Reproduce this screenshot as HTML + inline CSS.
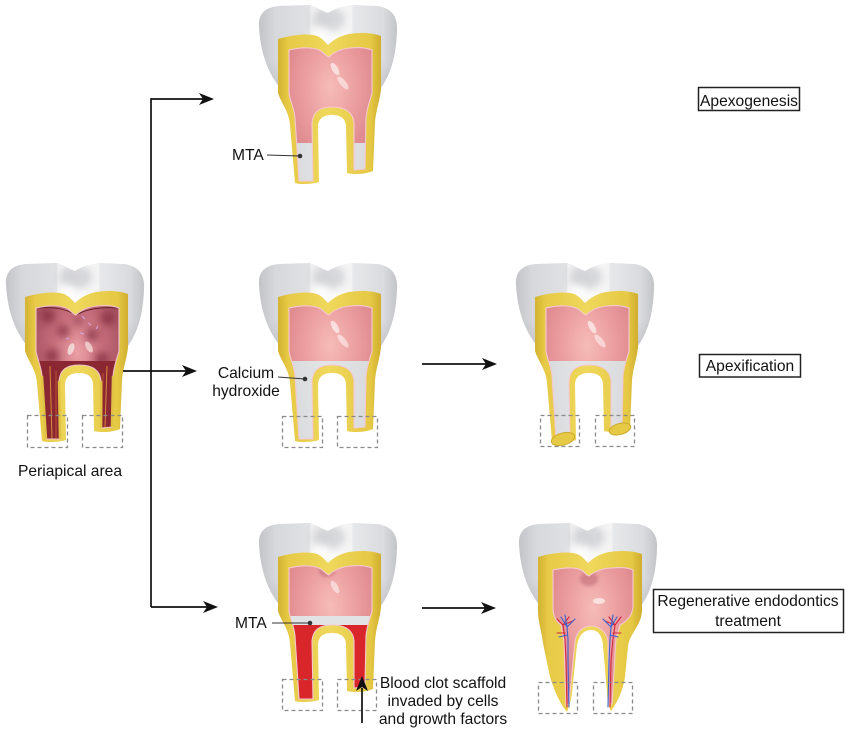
<!DOCTYPE html>
<html><head><meta charset="utf-8">
<style>
html,body{margin:0;padding:0;background:#fff;}
svg{display:block;}
text{font-family:"Liberation Sans",Arial,sans-serif;font-size:15.6px;fill:#111;}
</style></head><body>
<svg width="850" height="731" viewBox="0 0 850 731" xmlns="http://www.w3.org/2000/svg">
<defs>
 <path id="en" d="M2,24 C1,10 9,4 22,3 L53,2 C60,4 65,8 71,10 C76,7 83,3 96,2 L120,3 C135,5 141,14 140,28 C139,55 133,78 116,94 L32,94 C16,80 4,58 2,24 Z"/>
 <path id="den" d="M21,36 C35,32 50,30 60,33 C65,35 68,39 71,42 C75,38 82,33 92,31 C105,29 117,30 124,33 L124,86 C123,98 119,106 118,120 L116,168 C110,171 96,172 90,170 L89,124 C89,116 84,112 75,112 C66,112 61,116 61,124 L62,179 C56,181 44,182 38,180 L33,122 C32,108 24,100 21,90 Z"/>
 <path id="pulp" d="M32,47 C45,44 57,44 64,48 C67,50 69,53 72,54 C76,50 83,46 93,45 C103,44 110,45 115,47 L115,90 C113,98 110,104 109,115 L108,166 L97,167 L97,120 C96,109 88,104 75,104 C62,104 56,109 55,120 L56,178 L42,178 L38,115 C37,104 33,98 32,90 Z"/>
 <path id="denR" d="M21,36 C35,32 50,30 60,33 C65,35 68,39 71,42 C75,38 82,33 92,31 C105,29 117,30 125,33 L125,90 C124,105 113,112 111,125 L108,156 C106,170 100,182 94,190 C92,186 90,180 90,172 L86,124 C85,114 81,109 74,109 C67,109 62,114 60,124 L55,172 C54,180 52,186 50,191 C44,184 38,172 33,156 L26,122 C24,108 21,100 21,90 Z"/>
 <path id="pulpR" d="M36,49 C50,46 60,46 66,50 C68,52 70,55 72,55 C77,51 85,47 95,47 C105,46 112,47 116,49 L116,86 C115,95 110,100 103,104 L99,118 L95,183 L92,183 L91,120 C89,111 83,105 74,105 C66,105 60,110 58,120 L52,183 L49,184 L47,120 L44,104 C38,100 36,94 36,86 Z"/>

 <clipPath id="cpEn"><use href="#en"/></clipPath>
 <clipPath id="cpPulp"><use href="#pulp"/></clipPath>
 <clipPath id="cpPulpR"><use href="#pulpR"/></clipPath>

 <linearGradient id="gEn" x1="0" y1="0" x2="1" y2="0">
  <stop offset="0" stop-color="#c3c4c8"/>
  <stop offset="0.12" stop-color="#d7d8db"/>
  <stop offset="0.37" stop-color="#e0e1e3"/>
  <stop offset="0.373" stop-color="#f0f0f1"/>
  <stop offset="0.55" stop-color="#fcfcfc"/>
  <stop offset="0.675" stop-color="#f3f3f4"/>
  <stop offset="0.678" stop-color="#e7e8ea"/>
  <stop offset="0.9" stop-color="#dadbde"/>
  <stop offset="1" stop-color="#c3c4c7"/>
 </linearGradient>
 <linearGradient id="gEnV" x1="0" y1="0" x2="0" y2="1">
  <stop offset="0" stop-color="#9a9ba0" stop-opacity="0"/>
  <stop offset="0.6" stop-color="#9a9ba0" stop-opacity="0"/>
  <stop offset="1" stop-color="#8a8b90" stop-opacity="0.35"/>
 </linearGradient>
 <linearGradient id="gDen" x1="0" y1="0" x2="1" y2="0">
  <stop offset="0" stop-color="#d4b232"/>
  <stop offset="0.1" stop-color="#e7ca46"/>
  <stop offset="0.5" stop-color="#efd85c"/>
  <stop offset="0.9" stop-color="#e5c843"/>
  <stop offset="1" stop-color="#d0ad2f"/>
 </linearGradient>
 <radialGradient id="gPulp" cx="0.5" cy="0.3" r="0.6">
  <stop offset="0" stop-color="#f6bcb8"/>
  <stop offset="0.5" stop-color="#ec9fa0"/>
  <stop offset="1" stop-color="#dc868d"/>
 </radialGradient>
 <radialGradient id="gInf" cx="0.5" cy="0.35" r="0.6">
  <stop offset="0" stop-color="#eca0a6"/>
  <stop offset="0.5" stop-color="#c76f7c"/>
  <stop offset="1" stop-color="#a44e5e"/>
 </radialGradient>
 <linearGradient id="gGray" x1="0" y1="0" x2="1" y2="0">
  <stop offset="0" stop-color="#cfd0d3"/>
  <stop offset="0.5" stop-color="#e4e5e7"/>
  <stop offset="1" stop-color="#d2d3d6"/>
 </linearGradient>
 <filter id="bl" x="-50%" y="-50%" width="200%" height="200%"><feGaussianBlur stdDeviation="4"/></filter>
 <filter id="bl2" x="-50%" y="-50%" width="200%" height="200%"><feGaussianBlur stdDeviation="1.5"/></filter>

 <g id="crown">
  <use href="#en" fill="url(#gEn)"/>
  <g clip-path="url(#cpEn)">
   <ellipse cx="72" cy="16" rx="16" ry="13" fill="#b8b9be" opacity="0.55" filter="url(#bl)"/>
   <ellipse cx="64" cy="32" rx="10" ry="8" fill="#ffffff" opacity="0.8" filter="url(#bl)"/>
   <use href="#en" fill="url(#gEnV)"/>
  </g>
 </g>
</defs>

<!-- ========== Left infected tooth ========== -->
<g transform="translate(4,261)">
 <use href="#crown"/>
 <use href="#den" fill="url(#gDen)"/>
 <use href="#pulp" fill="url(#gInf)"/>
 <g clip-path="url(#cpPulp)">
  <g fill="#7f2a3c" opacity="0.75" filter="url(#bl)">
   <circle cx="44" cy="55" r="7"/>
   <circle cx="104" cy="57" r="7"/>
   <circle cx="59" cy="70" r="6"/>
   <circle cx="88" cy="74" r="6"/>
   <circle cx="48" cy="95" r="7"/>
   <circle cx="98" cy="98" r="7"/>
   <circle cx="74" cy="60" r="4"/>
  </g>
  <rect x="0" y="100" width="142" height="90" fill="#8a2732"/>
  <path d="M46,105 L48,178" stroke="#d98a3a" stroke-width="1" fill="none"/>
  <path d="M52,110 L52,178" stroke="#c5602e" stroke-width="0.8" fill="none"/>
  <path d="M103,105 L101,166" stroke="#d98a3a" stroke-width="1" fill="none"/>
  <path d="M99,112 L98,166" stroke="#c5602e" stroke-width="0.8" fill="none"/>
  <g stroke="#d6a6ee" stroke-width="1" fill="none">
   <path d="M78,55 l3,3"/><path d="M92,68 l2,-3"/><path d="M76,72 l4,1"/>
   <path d="M69,85 l-1,3"/><path d="M84,62 l3,2"/><path d="M62,78 l3,-1"/>
  </g>
  <ellipse cx="67" cy="88" rx="3" ry="6" fill="#f6e2e0" opacity="0.8" transform="rotate(20 67 88)"/>
  <ellipse cx="85" cy="86" rx="3" ry="6" fill="#f6e2e0" opacity="0.7" transform="rotate(-30 85 86)"/>
  <path d="M34,47 C50,46 60,47 72,54 C84,47 100,46 114,47" stroke="#5a1a25" stroke-width="0.8" fill="none"/>
 </g>
 <use href="#pulp" fill="none" stroke="#f2c3cd" stroke-width="1.1"/>
 <path d="M38,115 L42,178 M56,178 L55,120" stroke="#e0c245" stroke-width="2.5" fill="none"/>
 <path d="M97,120 L97,167 M108,166 L109,115" stroke="#e0c245" stroke-width="2.5" fill="none"/>
 <g fill="none" stroke="#8a8a8a" stroke-width="1.3" stroke-dasharray="4,3">
  <rect x="23.5" y="154.5" width="40" height="32"/>
  <rect x="78.5" y="154.5" width="40" height="32"/>
 </g>
</g>

<!-- ========== Top tooth (Apexogenesis) ========== -->
<g transform="translate(257,3)">
 <use href="#crown"/>
 <use href="#den" fill="url(#gDen)"/>
 <use href="#pulp" fill="url(#gPulp)"/>
 <g clip-path="url(#cpPulp)">
  <rect x="0" y="140" width="142" height="50" fill="url(#gGray)"/>
  <ellipse cx="78" cy="66" rx="3" ry="7" fill="#fff" opacity="0.6" transform="rotate(-30 78 66)"/>
  <ellipse cx="86" cy="80" rx="3" ry="8" fill="#fff" opacity="0.5" transform="rotate(-40 86 80)"/>
 </g>
 <use href="#pulp" fill="none" stroke="#f4c8d2" stroke-width="1.1"/>
</g>

<!-- ========== Middle tooth (Calcium hydroxide) ========== -->
<g transform="translate(257,261)">
 <use href="#crown"/>
 <use href="#den" fill="url(#gDen)"/>
 <use href="#pulp" fill="url(#gPulp)"/>
 <g clip-path="url(#cpPulp)">
  <rect x="0" y="100" width="142" height="90" fill="url(#gGray)"/>
  <ellipse cx="78" cy="66" rx="3" ry="7" fill="#fff" opacity="0.6" transform="rotate(-30 78 66)"/>
  <ellipse cx="86" cy="80" rx="3" ry="8" fill="#fff" opacity="0.5" transform="rotate(-40 86 80)"/>
 </g>
 <use href="#pulp" fill="none" stroke="#f4c8d2" stroke-width="1.1"/>
 <g fill="none" stroke="#8a8a8a" stroke-width="1.3" stroke-dasharray="4,3">
  <rect x="25.5" y="155.5" width="40" height="31"/>
  <rect x="80.5" y="155.5" width="40" height="31"/>
 </g>
</g>

<!-- ========== Apexification tooth ========== -->
<g transform="translate(514,261)">
 <use href="#crown"/>
 <use href="#den" fill="url(#gDen)"/>
 <use href="#pulp" fill="url(#gPulp)"/>
 <g clip-path="url(#cpPulp)">
  <rect x="0" y="100" width="142" height="90" fill="url(#gGray)"/>
  <ellipse cx="78" cy="66" rx="3" ry="7" fill="#fff" opacity="0.6" transform="rotate(-30 78 66)"/>
  <ellipse cx="86" cy="80" rx="3" ry="8" fill="#fff" opacity="0.5" transform="rotate(-40 86 80)"/>
 </g>
 <use href="#pulp" fill="none" stroke="#f4c8d2" stroke-width="1.1"/>
 <ellipse cx="49" cy="178" rx="12" ry="6" fill="#e6ca46" stroke="#cbaa2c" stroke-width="1" transform="rotate(-15 49 178)"/>
 <ellipse cx="106" cy="168" rx="11" ry="5.5" fill="#e6ca46" stroke="#cbaa2c" stroke-width="1" transform="rotate(-15 106 168)"/>
 <g fill="none" stroke="#8a8a8a" stroke-width="1.3" stroke-dasharray="4,3">
  <rect x="26.5" y="154.5" width="39" height="31"/>
  <rect x="81.5" y="154.5" width="39" height="31"/>
 </g>
</g>

<!-- ========== Bottom tooth (MTA + blood clot) ========== -->
<g transform="translate(257,521)">
 <use href="#crown"/>
 <use href="#den" fill="url(#gDen)"/>
 <use href="#pulp" fill="url(#gPulp)"/>
 <g clip-path="url(#cpPulp)">
  <rect x="0" y="95" width="142" height="10" fill="#e2e3e5"/>
  <rect x="0" y="104" width="142" height="90" fill="#d8262a"/>
  <ellipse cx="78" cy="66" rx="3" ry="7" fill="#fff" opacity="0.5" transform="rotate(-30 78 66)"/>
  <ellipse cx="70" cy="50" rx="8" ry="6" fill="#b86070" opacity="0.5" filter="url(#bl2)"/>
 </g>
 <use href="#pulp" fill="none" stroke="#f4c8d2" stroke-width="1.1"/>
 <g fill="none" stroke="#8a8a8a" stroke-width="1.3" stroke-dasharray="4,3">
  <rect x="25.5" y="158.5" width="40" height="31"/>
  <rect x="80.5" y="158.5" width="39" height="31"/>
 </g>
</g>

<!-- ========== Regenerative tooth ========== -->
<g transform="translate(517,521)">
 <use href="#crown"/>
 <use href="#denR" fill="url(#gDen)"/>
 <use href="#pulpR" fill="url(#gPulp)"/>
 <g clip-path="url(#cpPulpR)">
  <ellipse cx="72" cy="58" rx="9" ry="7" fill="#b86070" opacity="0.5" filter="url(#bl2)"/>
  <ellipse cx="82" cy="80" rx="6" ry="3" fill="#fff" opacity="0.6"/>
 </g>
 <use href="#pulpR" fill="none" stroke="#f4c8d2" stroke-width="1.1"/>
 <g fill="none" stroke-width="1.1" stroke-linecap="round">
  <path d="M50,186 L49,140 L48,118 L46,104 L40,98 M46,104 L52,96 M48,112 L40,112 M46,104 L56,100" stroke="#d3263c"/>
  <path d="M52,186 L51,140 L51,118 L50,106 L44,96 M50,106 L58,98 M50,114 L42,116 M50,106 L48,94" stroke="#3b63d4"/>
  <path d="M93,186 L94,140 L96,118 L98,104 L104,96 M98,104 L92,96 M96,112 L104,112 M98,104 L88,100" stroke="#d3263c"/>
  <path d="M91,186 L92,140 L93,118 L94,106 L100,96 M94,106 L86,98 M93,114 L101,116 M94,106 L96,94" stroke="#3b63d4"/>
 </g>
 <g fill="none" stroke="#8a8a8a" stroke-width="1.3" stroke-dasharray="4,3">
  <rect x="21.5" y="161.5" width="39" height="31"/>
  <rect x="76.5" y="161.5" width="39" height="31"/>
 </g>
</g>

<!-- ========== Arrows (drawn on top) ========== -->
<g stroke="#111" stroke-width="1.7" fill="none">
 <path d="M151,607 L151,99 L203,99"/>
 <path d="M151,607 L207,607"/>
 <path d="M123,371 L186,371"/>
 <path d="M422,364 L486,364"/>
 <path d="M422,608 L485,608"/>
 <path d="M362,723 L362,688"/>
</g>
<g fill="#111">
 <polygon points="214,99 199,93 203,99 199,105"/>
 <polygon points="218,607 203,601 207,607 203,613"/>
 <polygon points="197,371 182,365 186,371 182,377"/>
 <polygon points="497,364 482,358 486,364 482,370"/>
 <polygon points="496,608 481,602 485,608 481,614"/>
 <polygon points="362,676 356,691 362,687 368,691"/>
</g>

<!-- ========== Leader lines ========== -->
<g stroke="#333" stroke-width="1.1">
 <line x1="267" y1="155" x2="300" y2="156"/>
 <line x1="278" y1="377" x2="305" y2="379"/>
 <line x1="272" y1="623" x2="310" y2="623"/>
</g>
<g fill="#333">
 <circle cx="300" cy="156" r="2.3"/>
 <circle cx="305" cy="379" r="2.3"/>
 <circle cx="310" cy="623" r="2.3"/>
</g>

<!-- ========== Labels ========== -->
<text x="232" y="160">MTA</text>
<text x="246" y="378" text-anchor="middle">Calcium</text>
<text x="246" y="396" text-anchor="middle">hydroxide</text>
<text x="235" y="628">MTA</text>
<text x="70" y="476" text-anchor="middle">Periapical area</text>
<text x="443" y="688" text-anchor="middle">Blood clot scaffold</text>
<text x="443" y="706" text-anchor="middle">invaded by cells</text>
<text x="443" y="724" text-anchor="middle">and growth factors</text>

<g fill="#fff" stroke="#222" stroke-width="1.5">
 <rect x="698.5" y="87.5" width="101" height="23"/>
 <rect x="699.5" y="354.5" width="101" height="22.5"/>
 <rect x="653.5" y="589.5" width="190" height="43"/>
</g>
<text x="749" y="106" text-anchor="middle">Apexogenesis</text>
<text x="750" y="371" text-anchor="middle">Apexification</text>
<text x="748" y="606" text-anchor="middle">Regenerative endodontics</text>
<text x="748" y="626" text-anchor="middle">treatment</text>
</svg>
</body></html>
